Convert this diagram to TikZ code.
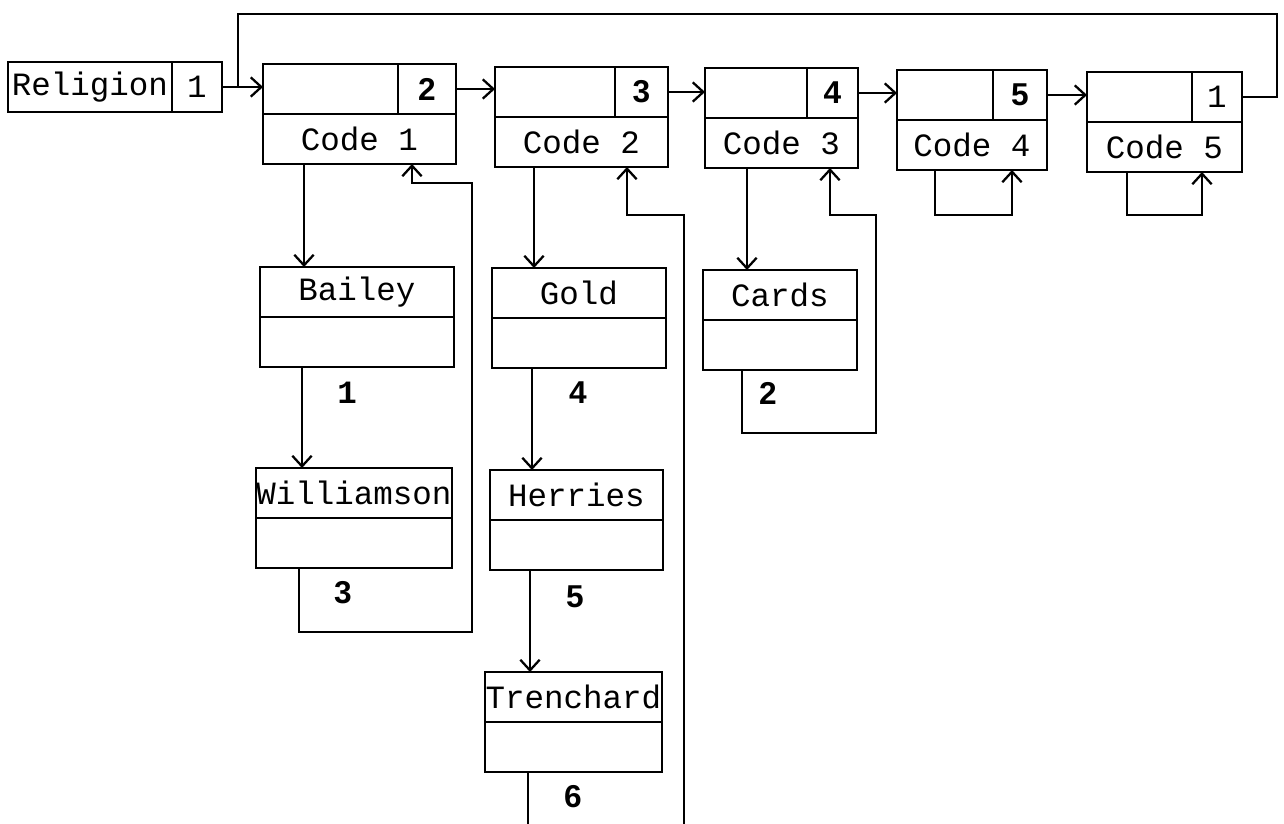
\documentclass[tikz,border=0pt]{standalone}
\usepackage{fontspec}
\setmonofont{Liberation Mono}
\setsansfont{Liberation Sans}
\usetikzlibrary{arrows.meta,positioning,calc}

\begin{document}
\begin{tikzpicture}[
  x=0.02cm, y=-0.02cm,
  cell/.style={rectangle, draw, line width=1.6pt, minimum height=1cm,
    inner sep=0pt, outer sep=0pt, anchor=north west,
    font=\fontsize{18.5}{20}\selectfont\ttfamily},
  ptr/.style={cell, font=\fontsize{18}{20}\selectfont\sffamily\bfseries},
  ptrone/.style={cell},
  link/.style={line width=1.3pt},
  lbl/.style={font=\fontsize{18}{20}\selectfont\sffamily\bfseries},
  lblone/.style={font=\fontsize{18.5}{20}\selectfont\ttfamily\bfseries},
  >={Straight Barb[length=6pt,width=11pt]},
]
  \useasboundingbox (0,0) rectangle (1284,823);

  %% Head of the list
  \node[cell, minimum width=3.28cm] (rel) at (8,62) {Religion};
  \node[ptrone, minimum width=1cm] (relptr) at (rel.north east) {1};

  %% Row of code records
  \node[cell, minimum width=2.7cm] (c1a) at (263,64) {};
  \node[ptr, minimum width=1.16cm] (c1p) at (c1a.north east) {2};
  \node[cell, minimum width=3.86cm] (c1) at (c1a.south west) {Code 1};

  \node[cell, minimum width=2.4cm] (c2a) at (495,67) {};
  \node[ptr, minimum width=1.06cm] (c2p) at (c2a.north east) {3};
  \node[cell, minimum width=3.46cm] (c2) at (c2a.south west) {Code 2};

  \node[cell, minimum width=2.04cm] (c3a) at (705,68) {};
  \node[ptr, minimum width=1.02cm] (c3p) at (c3a.north east) {4};
  \node[cell, minimum width=3.06cm] (c3) at (c3a.south west) {Code 3};

  \node[cell, minimum width=1.92cm] (c4a) at (897,70) {};
  \node[ptr, minimum width=1.08cm] (c4p) at (c4a.north east) {5};
  \node[cell, minimum width=3cm] (c4) at (c4a.south west) {Code 4};

  \node[cell, minimum width=2.1cm] (c5a) at (1087,72) {};
  \node[ptrone, minimum width=1cm] (c5p) at (c5a.north east) {1};
  \node[cell, minimum width=3.1cm] (c5) at (c5a.south west) {Code 5};

  %% Name records
  \node[cell, minimum width=3.88cm] (bailey) at (260,267) {Bailey};
  \node[cell, minimum width=3.88cm] (baileyb) at (bailey.south west) {};
  \node[cell, minimum width=3.92cm] (will) at (256,468) {Williamson};
  \node[cell, minimum width=3.92cm] (willb) at (will.south west) {};

  \node[cell, minimum width=3.48cm] (gold) at (492,268) {Gold};
  \node[cell, minimum width=3.48cm] (goldb) at (gold.south west) {};
  \node[cell, minimum width=3.46cm] (herr) at (490,470) {Herries};
  \node[cell, minimum width=3.46cm] (herrb) at (herr.south west) {};
  \node[cell, minimum width=3.54cm] (trench) at (485,672) {Trenchard};
  \node[cell, minimum width=3.54cm] (trenchb) at (trench.south west) {};

  \node[cell, minimum width=3.08cm] (cards) at (703,270) {Cards};
  \node[cell, minimum width=3.08cm] (cardsb) at (cards.south west) {};

  %% Record numbers
  \node[lblone] (n1) at (347,393) {1};
  \node[lbl] (n3) at (343,593) {3};
  \node[lbl] (n4) at (578,393) {4};
  \node[lbl] (n5) at (575,597) {5};
  \node[lbl] (n6) at (573,797) {6};
  \node[lbl] (n2) at (768,393) {2};

  %% Chain along the top
  \coordinate (join) at ($(relptr.east)!0.39!(relptr.east -| c1a.west)$);
  \draw[link, ->] (relptr.east) -- (relptr.east -| c1a.west);
  \draw[link, ->] (c1p.east) -- (c1p.east -| c2a.west);
  \draw[link, ->] (c2p.east) -- (c2p.east -| c3a.west);
  \draw[link, ->] (c3p.east) -- (c3p.east -| c4a.west);
  \draw[link, ->] (c4p.east) -- (c4p.east -| c5a.west);
  \draw[link] (c5p.east) -- ++(35,0) -- ++(0,-83) -| (join);

  %% Code 1 chain
  \draw[link, ->] ([xshift=0.82cm]c1.south west) -- ([xshift=0.82cm]c1.south west |- bailey.north);
  \draw[link, ->] ([xshift=0.84cm]baileyb.south west) -- ([xshift=0.84cm]baileyb.south west |- will.north);
  \draw[link, ->] ([xshift=0.86cm]willb.south west) -- ++(0,64) -- ++(173,0) -- ++(0,-449)
    -| ([xshift=2.98cm]c1.south west);

  %% Code 2 chain
  \draw[link, ->] ([xshift=0.78cm]c2.south west) -- ([xshift=0.78cm]c2.south west |- gold.north);
  \draw[link, ->] ([xshift=0.8cm]goldb.south west) -- ([xshift=0.8cm]goldb.south west |- herr.north);
  \draw[link, ->] ([xshift=0.8cm]herrb.south west) -- ([xshift=0.8cm]herrb.south west |- trench.north);
  \draw[link] ([xshift=0.86cm]trenchb.south west) -- ++(0,60);
  \coordinate (c2tail) at (684,830);
  \draw[link, ->] (c2tail) -- ++(0,-615) -| ([xshift=2.64cm]c2.south west);

  %% Code 3 chain
  \draw[link, ->] ([xshift=0.84cm]c3.south west) -- ([xshift=0.84cm]c3.south west |- cards.north);
  \draw[link, ->] ([xshift=0.78cm]cardsb.south west) -- ++(0,63) -- ++(134,0) -- ++(0,-218)
    -| ([xshift=2.5cm]c3.south west);

  %% Empty chains
  \draw[link, ->] ([xshift=0.76cm]c4.south west) -- ++(0,45) -| ([xshift=2.3cm]c4.south west);
  \draw[link, ->] ([xshift=0.8cm]c5.south west) -- ++(0,43) -| ([xshift=2.3cm]c5.south west);
\end{tikzpicture}
\end{document}
